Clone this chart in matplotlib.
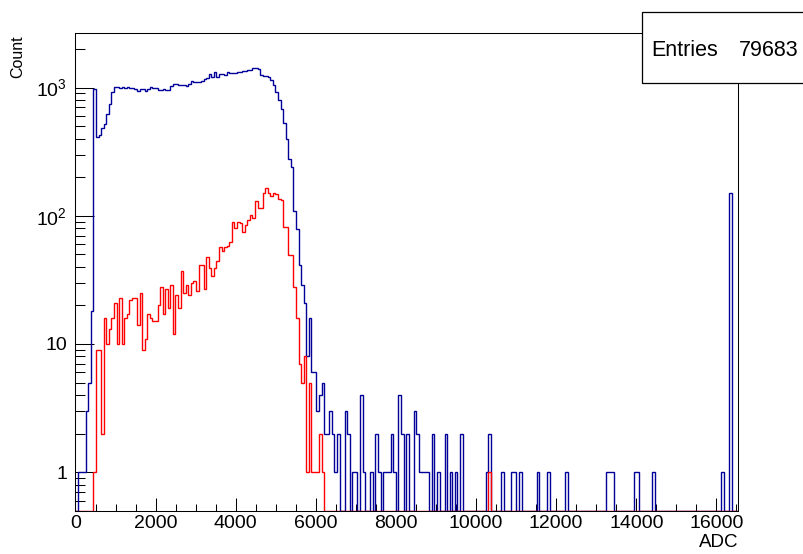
import numpy as np
import matplotlib
matplotlib.use("Agg")
import matplotlib.pyplot as plt
from matplotlib.ticker import FixedLocator, FixedFormatter, MultipleLocator, LogLocator, NullFormatter

plt.rcParams['font.family'] = ['Liberation Sans', 'DejaVu Sans']
plt.rcParams['mathtext.fontset'] = 'custom'
plt.rcParams['mathtext.rm'] = 'Liberation Sans'
plt.rcParams['mathtext.it'] = 'Liberation Sans:italic'

# histogram binning (ADC channels)
bin_width = 64
n_bins = 258
entries = 79683

# counts per bin
blue_main = [
    0, 1, 1, 1, 3, 5, 18, 970, 415, 428,
    482, 521, 624, 747, 921, 1019, 1019, 989, 1019, 989,
    1019, 989, 1000, 971, 948, 971, 971, 948, 971, 1007,
    989, 989, 959, 959, 971, 959, 959, 1031, 1069, 1069,
    1050, 1050, 1050, 1031, 1069, 1134, 1114, 1114, 1114, 1134,
    1161, 1183, 1279, 1205, 1333, 1219, 1279, 1279, 1256, 1333,
    1290, 1310, 1310, 1333, 1333, 1350, 1350, 1375, 1375, 1417,
    1417, 1390, 1256, 1240, 1220, 1219, 1140, 1050, 931, 802,
    678, 527, 398, 276, 239, 108, 79, 41, 29, 21,
    8, 16, 6, 6, 3, 4, 5, 2, 2, 3,
    2, 1, 2,
]
blue_tail_bins = [105, 106, 108, 109, 111, 112, 115, 117, 118, 120, 121, 122,
                  123, 124, 126, 127, 129, 132, 133, 134, 135, 136, 137, 139,
                  141, 144, 146, 148, 150, 160, 161, 166, 170, 171, 173, 180,
                  184, 191, 207, 208, 209, 218, 219, 225, 252, 255]
blue_tail_counts = [3, 2, 1, 1, 4, 1, 1, 2, 1, 1, 1, 1,
                    2, 1, 4, 2, 2, 3, 2, 1, 1, 1, 1, 2,
                    1, 2, 1, 1, 2, 1, 2, 1, 1, 1, 1, 1,
                    1, 1, 1, 1, 1, 1, 1, 1, 1, 150]

red_main = [
    0, 0, 0, 0, 0, 0, 0, 1, 9, 9,
    2, 16, 10, 13, 16, 21, 10, 23, 10, 16,
    17, 22, 23, 23, 14, 25, 9, 11, 17, 16,
    15, 15, 20, 28, 17, 27, 19, 29, 12, 24,
    19, 37, 25, 29, 24, 30, 31, 26, 41, 41,
    27, 48, 39, 34, 39, 44, 57, 53, 57, 58,
    62, 90, 80, 90, 88, 75, 85, 93, 102, 96,
    131, 115, 115, 150, 164, 150, 143, 150, 148, 135,
    133, 82, 82, 49, 49, 28, 16, 7, 5, 8,
    1, 5, 1, 1, 1, 2, 1, 0,
]
red_tail_bins = [161]
red_tail_counts = [1]


def fill_hist(main, tail_bins, tail_counts):
    h = np.zeros(n_bins)
    h[:len(main)] = main
    h[tail_bins] = tail_counts
    return h


blue = fill_hist(blue_main, blue_tail_bins, blue_tail_counts)
red = fill_hist(red_main, red_tail_bins, red_tail_counts)
edges = np.arange(n_bins + 1) * bin_width

ymin, ymax = 0.5, 2650

fig = plt.figure(figsize=(8.04, 5.54), dpi=100)
ax = fig.add_axes([75.5 / 804, 1 - 510.7 / 554, (738 - 75.5) / 804, (510.7 - 33.3) / 554])
ax.set_yscale('log')

# empty bins sit on the bottom of the frame, like ROOT draws them
ax.stairs(np.where(blue > 0, blue, ymin), edges, color='#000099', lw=1.0,
          baseline=None, zorder=3)
ax.stairs(np.where(red > 0, red, ymin), edges, color='#ff0000', lw=1.0,
          baseline=None, zorder=3)

ax.set_xlim(0, 16540)
ax.set_ylim(ymin, ymax)

ax.xaxis.set_major_locator(MultipleLocator(2000))
ax.xaxis.set_minor_locator(MultipleLocator(500))
ax.yaxis.set_major_locator(FixedLocator([1, 10, 100, 1000]))
ax.yaxis.set_major_formatter(FixedFormatter(['1', '10', r'$10^{2}$', r'$10^{3}$']))
ax.yaxis.set_minor_locator(LogLocator(base=10, subs=np.arange(2, 10) / 1.0))
ax.yaxis.set_minor_formatter(NullFormatter())

ax.tick_params(which='both', direction='in', top=False, right=False,
               width=0.75, color='black', labelsize=14)
ax.tick_params(axis='x', which='major', length=9.4, pad=3)
ax.tick_params(axis='x', which='minor', length=4.7)
ax.tick_params(axis='y', which='major', length=13.7, pad=6)
ax.tick_params(axis='y', which='minor', length=7)
for s in ax.spines.values():
    s.set_linewidth(0.75)

fig.text(18 / 804, 1 - 35 / 554, 'Count', rotation=90, ha='center', va='top', fontsize=11.5)
fig.text(738 / 804, 1 - 547 / 554, 'ADC', ha='right', va='baseline', fontsize=13.5)

# stats box
shadow = plt.Rectangle((644 / 804, 1 - 84.5 / 554), 0.3, 70.4 / 554, transform=fig.transFigure,
                       facecolor='black', edgecolor='none', zorder=5)
fig.add_artist(shadow)
box = plt.Rectangle((642 / 804, 1 - 82.7 / 554), 0.3, 70.4 / 554, transform=fig.transFigure,
                    facecolor='white', edgecolor='black', lw=0.9, zorder=6)
fig.add_artist(box)
fig.text(651.5 / 804, 1 - 56.5 / 554, 'Entries', ha='left', va='baseline', fontsize=15.5, zorder=7)
fig.text(799 / 804, 1 - 56.5 / 554, f'{entries}', ha='right', va='baseline', fontsize=15.5, zorder=7)

fig.savefig('out.png', dpi=100)
